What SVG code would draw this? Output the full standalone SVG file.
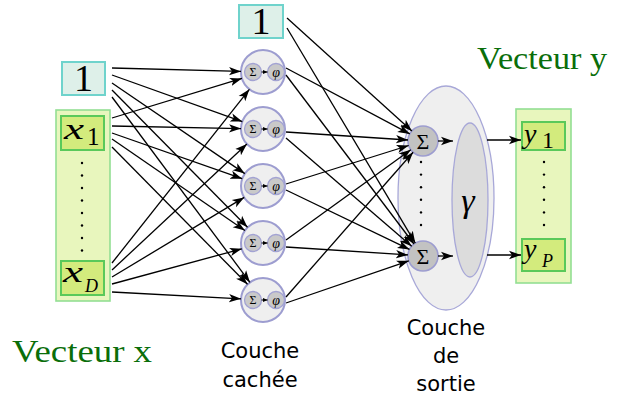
<svg xmlns="http://www.w3.org/2000/svg" width="617" height="396" viewBox="0 0 617 396">
<style>
.bias{fill:#def0e9;stroke:#6fd3cc;stroke-width:2}
.vec{fill:#e8f6bd;stroke:#93df93;stroke-width:1.6}
.comp{fill:#d3eb7d;stroke:#5ac95a;stroke-width:2}
.hid{fill:#efefef;stroke:#9d9dd0;stroke-width:2}
.sm{fill:#c9c9c9;stroke:#a3a3d3;stroke-width:1.3}
.outer{fill:#efefef;stroke:#a8a8d8;stroke-width:1.3}
.inner{fill:#dcdcdc;stroke:#a8a8d8;stroke-width:1.3}
.sig{fill:#c2c2c2;stroke:#9d9dd0;stroke-width:1.6}
.math{font-family:"Liberation Serif","DejaVu Serif",serif;fill:#000}
.it{font-style:italic}
.lbl{font-family:"DejaVu Sans",sans-serif;font-size:21px;fill:#000;text-anchor:middle}
.vt{font-family:"Liberation Serif","DejaVu Serif",serif;font-size:32px;fill:#0a6e0a}
.dot{fill:#000}
#edges line{stroke:#000;stroke-width:1.3;marker-end:url(#ah)}
</style>
<defs>
<marker id="ah" markerUnits="userSpaceOnUse" markerWidth="14" markerHeight="10" refX="12" refY="5" orient="auto">
<path d="M0,0.8 L12,5 L0,9.2 L3,5 Z" fill="#000"/>
</marker>
<marker id="ahs" markerUnits="userSpaceOnUse" markerWidth="6" markerHeight="6" refX="5" refY="3" orient="auto">
<path d="M0,0.8 L5,3 L0,5.2 Z" fill="#000"/>
</marker>
</defs>

<g id="input-vector">
<rect class="vec" x="56" y="110" width="54" height="191"/>
<g id="x1"><rect class="comp" x="61" y="116" width="43" height="34"/>
<text class="math it" x="64" y="139" font-size="29" textLength="20" lengthAdjust="spacingAndGlyphs">x</text><text class="math" x="87" y="145" font-size="25">1</text></g>
<g id="xD"><rect class="comp" x="61" y="261" width="43" height="34"/>
<text class="math it" x="63" y="282" font-size="29" textLength="20" lengthAdjust="spacingAndGlyphs">x</text><text class="math it" x="85" y="292" font-size="18">D</text></g>
<g class="dot"><circle cx="82" cy="163" r="1.2"/><circle cx="82" cy="175.5" r="1.2"/><circle cx="82" cy="188" r="1.2"/><circle cx="82" cy="200.5" r="1.2"/><circle cx="82" cy="213" r="1.2"/><circle cx="82" cy="225.5" r="1.2"/><circle cx="82" cy="238" r="1.2"/><circle cx="82" cy="250.5" r="1.2"/></g>
</g>
<g id="bias-input"><rect class="bias" x="62" y="62" width="43" height="33"/>
<text class="math" x="83.5" y="91" font-size="38" text-anchor="middle">1</text></g>
<g id="bias-hidden"><rect class="bias" x="239" y="5" width="44" height="33"/>
<text class="math" x="261" y="34" font-size="38" text-anchor="middle">1</text></g>

<g id="hidden-1"><circle class="hid" cx="263" cy="72" r="22"/><circle class="sm" cx="253" cy="72" r="8.5"/><circle class="sm" cx="276" cy="72" r="8.5"/><line x1="261.5" y1="72" x2="267.5" y2="72" stroke="#000" stroke-width="1" marker-end="url(#ahs)"/><text class="math" x="253" y="76" font-size="12" text-anchor="middle">Σ</text><text class="math it" x="276" y="76.5" font-size="14" text-anchor="middle">φ</text></g>
<g id="hidden-2"><circle class="hid" cx="263" cy="129" r="22"/><circle class="sm" cx="253" cy="129" r="8.5"/><circle class="sm" cx="276" cy="129" r="8.5"/><line x1="261.5" y1="129" x2="267.5" y2="129" stroke="#000" stroke-width="1" marker-end="url(#ahs)"/><text class="math" x="253" y="133" font-size="12" text-anchor="middle">Σ</text><text class="math it" x="276" y="133.5" font-size="14" text-anchor="middle">φ</text></g>
<g id="hidden-3"><circle class="hid" cx="263" cy="186" r="22"/><circle class="sm" cx="253" cy="186" r="8.5"/><circle class="sm" cx="276" cy="186" r="8.5"/><line x1="261.5" y1="186" x2="267.5" y2="186" stroke="#000" stroke-width="1" marker-end="url(#ahs)"/><text class="math" x="253" y="190" font-size="12" text-anchor="middle">Σ</text><text class="math it" x="276" y="190.5" font-size="14" text-anchor="middle">φ</text></g>
<g id="hidden-4"><circle class="hid" cx="263" cy="243" r="22"/><circle class="sm" cx="253" cy="243" r="8.5"/><circle class="sm" cx="276" cy="243" r="8.5"/><line x1="261.5" y1="243" x2="267.5" y2="243" stroke="#000" stroke-width="1" marker-end="url(#ahs)"/><text class="math" x="253" y="247" font-size="12" text-anchor="middle">Σ</text><text class="math it" x="276" y="247.5" font-size="14" text-anchor="middle">φ</text></g>
<g id="hidden-5"><circle class="hid" cx="263" cy="300" r="22"/><circle class="sm" cx="253" cy="300" r="8.5"/><circle class="sm" cx="276" cy="300" r="8.5"/><line x1="261.5" y1="300" x2="267.5" y2="300" stroke="#000" stroke-width="1" marker-end="url(#ahs)"/><text class="math" x="253" y="304" font-size="12" text-anchor="middle">Σ</text><text class="math it" x="276" y="304.5" font-size="14" text-anchor="middle">φ</text></g>

<g id="output-layer">
<ellipse class="outer" cx="446" cy="198" rx="48" ry="112"/>
<ellipse class="inner" cx="470" cy="200" rx="18" ry="77"/>
<text class="math it" x="468" y="212" font-size="34" text-anchor="middle">γ</text>
<g id="sum-1"><circle class="sig" cx="423" cy="141" r="15"/><text class="math" x="423" y="149" font-size="22" text-anchor="middle">Σ</text></g>
<g id="sum-P"><circle class="sig" cx="423" cy="256" r="15"/><text class="math" x="423" y="264" font-size="22" text-anchor="middle">Σ</text></g>
<g class="dot"><circle cx="421" cy="162" r="1.2"/><circle cx="421" cy="174.6" r="1.2"/><circle cx="421" cy="187.2" r="1.2"/><circle cx="421" cy="199.8" r="1.2"/><circle cx="421" cy="212.4" r="1.2"/><circle cx="421" cy="225" r="1.2"/></g>
</g>

<g id="output-vector">
<rect class="vec" x="516" y="109" width="55" height="174"/>
<g id="y1"><rect class="comp" x="522" y="122" width="43" height="28"/>
<text class="math it" x="524" y="143" font-size="28">y</text><text class="math" x="542" y="148" font-size="24">1</text></g>
<g id="yP"><rect class="comp" x="522" y="239" width="43" height="32"/>
<text class="math it" x="524" y="258" font-size="28">y</text><text class="math it" x="542" y="267" font-size="18">P</text></g>
<g class="dot"><circle cx="544" cy="162" r="1.2"/><circle cx="544" cy="174.6" r="1.2"/><circle cx="544" cy="187.2" r="1.2"/><circle cx="544" cy="199.8" r="1.2"/><circle cx="544" cy="212.4" r="1.2"/><circle cx="544" cy="225" r="1.2"/></g>
</g>

<g id="edges">
<line x1="112" y1="68" x2="241" y2="71.4"/>
<line x1="112" y1="118" x2="241.9" y2="78.4"/>
<line x1="112" y1="263" x2="249.4" y2="89.3"/>
<line x1="112" y1="75" x2="242.3" y2="121.6"/>
<line x1="112" y1="126" x2="241" y2="128.6"/>
<line x1="112" y1="270" x2="246.9" y2="144"/>
<line x1="112" y1="83" x2="244.8" y2="173.6"/>
<line x1="112" y1="133" x2="242.2" y2="178.7"/>
<line x1="112" y1="277" x2="244.2" y2="197.4"/>
<line x1="112" y1="90" x2="247.5" y2="227.3"/>
<line x1="112" y1="139" x2="244.9" y2="230.5"/>
<line x1="112" y1="284" x2="241.8" y2="248.8"/>
<line x1="112" y1="97" x2="249.9" y2="282.3"/>
<line x1="112" y1="147" x2="247.5" y2="284.3"/>
<line x1="112" y1="292" x2="241" y2="298.8"/>

<line x1="287" y1="18" x2="411.9" y2="130.9"/>
<line x1="286" y1="68" x2="409.8" y2="133.9"/>
<line x1="286" y1="132" x2="408" y2="140"/>
<line x1="286" y1="184" x2="408.7" y2="145.5"/>
<line x1="286" y1="240" x2="410.8" y2="149.8"/>
<line x1="286" y1="297" x2="413.1" y2="152.3"/>
<line x1="287" y1="28" x2="415.3" y2="243.1"/>
<line x1="286" y1="75" x2="414" y2="244"/>
<line x1="286" y1="138" x2="411.7" y2="246.2"/>
<line x1="286" y1="190" x2="409.5" y2="249.4"/>
<line x1="286" y1="247" x2="408" y2="254.9"/>
<line x1="286" y1="303" x2="408.8" y2="260.8"/>

<line x1="438" y1="141" x2="453" y2="141"/>
<line x1="438" y1="256" x2="453" y2="256"/>
<line x1="487" y1="140" x2="521" y2="140"/>
<line x1="487" y1="255" x2="521" y2="255"/>
</g>

<text class="vt" x="12" y="362" textLength="140" lengthAdjust="spacingAndGlyphs">Vecteur x</text>
<text class="vt" x="477" y="69" textLength="130" lengthAdjust="spacingAndGlyphs">Vecteur y</text>
<text class="lbl" x="260" y="358">Couche</text>
<text class="lbl" x="260" y="387">cachée</text>
<text class="lbl" x="446" y="335">Couche</text>
<text class="lbl" x="446" y="363">de</text>
<text class="lbl" x="446" y="391">sortie</text>
</svg>
